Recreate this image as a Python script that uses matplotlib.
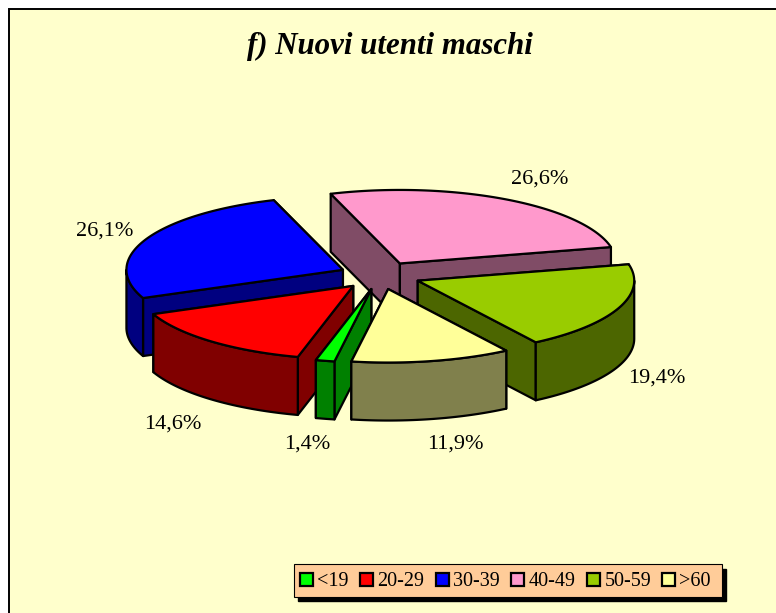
#! python3
# Exploded 3D pie: Nuovi utenti maschi

import numpy as np
import matplotlib
matplotlib.use('Agg')
import matplotlib.pyplot as plt
from matplotlib.patches import Polygon, Rectangle

plt.rcParams['font.family'] = ['Liberation Serif', 'DejaVu Serif']

# Data
categories = ['<19', '20-29', '30-39', '40-49', '50-59', '>60']
values = [1.4, 14.6, 26.1, 26.6, 19.4, 11.9]
title = 'f) Nuovi utenti maschi'

# Style
top_colors = ['#00FF00', '#FF0000', '#0000FF', '#FF99CC', '#99CC00', '#FFFF99']
wall_colors = ['#008000', '#800000', '#000080', '#804C66', '#4C6600', '#80804C']
label_xy = [(307, 444), (173, 424), (105, 231), (540, 179), (657, 378), (455, 444)]
draw_order = [3, 2, 4, 1, 0, 5]   # back to front

# Pie geometry, in pixels
CX, CY = 380, 275.5
RX, RY = 216.5, 73.5
DEPTH = 58
EXPLODE = 0.188
START = 99.8
LW = 1.6


def arc(center, a0, a1, drop=0):
    t = np.radians(np.linspace(a0, a1, max(int(abs(a1 - a0)) * 2, 2)))
    return np.column_stack([center[0] + RX * np.cos(t), center[1] + drop + RY * np.sin(t)])


def poly(ax, pts, color, z):
    ax.add_patch(Polygon(pts, closed=True, facecolor=color, edgecolor='black',
                         linewidth=LW, joinstyle='round', zorder=z))


def draw_slice(ax, a0, a1, top, wall, z):
    mid = np.radians((a0 + a1) / 2)
    apex = np.array([CX + EXPLODE * RX * np.cos(mid), CY + EXPLODE * RY * np.sin(mid)])
    down = np.array([0, DEPTH])

    # Radial walls, the hidden one goes first
    edges = [(a0, -np.cos(np.radians(a0))), (a1, np.cos(np.radians(a1)))]
    edges.sort(key=lambda e: e[1])
    for ang, _ in edges:
        end = arc(apex, ang, ang)[0]
        poly(ax, [apex, end, end + down, apex + down], wall, z)

    # Outer wall where the rim faces the viewer
    for lo, hi in [(0, 180), (360, 540)]:
        s, e = max(a0, lo), min(a1, hi)
        if s < e:
            rim = arc(apex, s, e)
            poly(ax, np.vstack([rim, (rim + down)[::-1]]), wall, z + 0.1)

    poly(ax, np.vstack([[apex], arc(apex, a0, a1)]), top, z + 0.2)


fig = plt.figure(figsize=(7.76, 6.13), dpi=100, facecolor='white')
ax = fig.add_axes([0, 0, 1, 1])
ax.set_xlim(0, 776)
ax.set_ylim(613, 0)
ax.axis('off')

# Chart area
ax.add_patch(Rectangle((9, 9), 800, 700, facecolor='#FFFFCC', edgecolor='black', linewidth=1.4, zorder=0))

# Slices
angles = START + np.concatenate([[0], np.cumsum(values)]) * 360 / sum(values)
for rank, i in enumerate(draw_order):
    draw_slice(ax, angles[i], angles[i + 1], top_colors[i], wall_colors[i], rank + 1)

# Labels
for v, (x, y) in zip(values, label_xy):
    ax.text(x, y, f'{v:.1f}%'.replace('.', ','), fontsize=16, ha='center', va='center', zorder=20)

ax.text(390, 46, title, fontsize=22.2, fontweight='bold', fontstyle='italic',
        ha='center', va='center', zorder=20)

# Legend
ax.add_patch(Rectangle((298, 569), 428, 32, facecolor='black', edgecolor='black', zorder=20))
ax.add_patch(Rectangle((293.5, 564), 428, 32.5, facecolor='#FFCC99', edgecolor='black', linewidth=0.8, zorder=21))
key_x = [300, 360, 436, 511, 587, 662]
for name, color, x in zip(categories, top_colors, key_x):
    ax.add_patch(Rectangle((x, 573), 13, 13, facecolor=color, edgecolor='black', linewidth=1.6, zorder=22))
    ax.text(x + 17.5, 581, name, fontsize=14.5, ha='left', va='center', zorder=22)

fig.savefig('out.png', dpi=100)
